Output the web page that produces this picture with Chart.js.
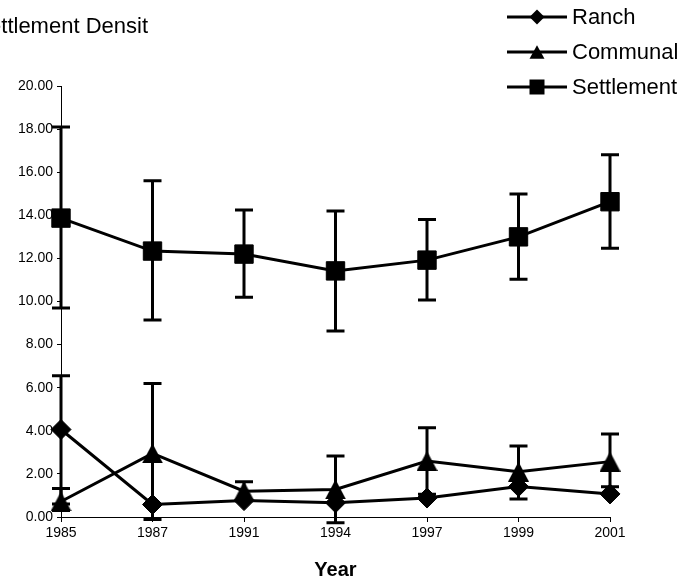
<!DOCTYPE html>
<html>
<head>
<meta charset="UTF-8">
<title>Settlement Density</title>
<script src="https://cdn.jsdelivr.net/npm/chart.js"></script>
<style>
    html, body {
        margin: 0;
        padding: 0;
        background: #fff;
    }
</style>
</head>
<body>
<canvas id="densityChart" width="684" height="584"></canvas>

<script>
    const years = ['1985', '1987', '1991', '1994', '1997', '1999', '2001'];

    const ranch = [4.06, 0.58, 0.76, 0.66, 0.88, 1.41, 1.07];
    const ranchHi = [6.55, null, null, null, null, null, null];
    const ranchLo = [0.6, null, null, null, null, null, null];

    const communal = [0.72, 2.95, 1.2, 1.28, 2.6, 2.1, 2.57];
    const communalHi = [1.32, 6.2, 1.64, 2.83, 4.14, 3.29, 3.85];
    const communalLo = [0.3, -0.12, 0.76, -0.27, 1.06, 0.84, 1.4];

    const settlement = [13.87, 12.34, 12.2, 11.42, 11.92, 13.0, 14.63];
    const settlementHi = [18.1, 15.6, 14.25, 14.2, 13.81, 14.99, 16.81];
    const settlementLo = [9.7, 9.14, 10.2, 8.63, 10.07, 11.03, 12.47];

    const yTicks = [0, 2, 4, 6, 8, 10, 12, 14, 16, 18, 20];

    const FONT = "'Liberation Sans', Arial, sans-serif";

    // triangle centred on its box (Chart.js' own triangle sits a little high)
    function triangleImage(w, h) {
        const c = document.createElement('canvas');
        c.width = w;
        c.height = h;
        const g = c.getContext('2d');
        g.fillStyle = '#000';
        g.beginPath();
        g.moveTo(w / 2, 0);
        g.lineTo(w, h);
        g.lineTo(0, h);
        g.closePath();
        g.fill();
        return c;
    }

    // error bars: vertical line + cap, drawn under the markers
    const errorBars = {
        id: 'errorBars',
        beforeDatasetsDraw(chart) {
            const ctx = chart.ctx;
            const xs = chart.scales.x, ys = chart.scales.y;
            const sets = [
                [ranch, ranchLo, ranchHi],
                [communal, communalLo, communalHi],
                [settlement, settlementLo, settlementHi]
            ];
            ctx.save();
            ctx.strokeStyle = '#000';
            ctx.lineWidth = 3;
            sets.forEach(([vals, lo, hi]) => {
                vals.forEach((v, i) => {
                    const px = xs.getPixelForValue(i);
                    const pv = ys.getPixelForValue(v);
                    [lo[i], hi[i]].forEach(b => {
                        if (b === null) return;
                        const pb = ys.getPixelForValue(b);
                        ctx.beginPath();
                        ctx.moveTo(px, pv);
                        ctx.lineTo(px, pb);
                        ctx.moveTo(px - 9, pb);
                        ctx.lineTo(px + 9, pb);
                        ctx.stroke();
                    });
                });
            });
            ctx.restore();
        }
    };

    function marker(ctx, style, x, y, r) {
        ctx.beginPath();
        if (style === 'rectRot') {
            ctx.moveTo(x, y - r); ctx.lineTo(x + r, y); ctx.lineTo(x, y + r); ctx.lineTo(x - r, y);
        } else if (style === 'rect') {
            ctx.rect(x - r, y - r, 2 * r, 2 * r);
        } else {
            ctx.moveTo(x, y - r * 0.9); ctx.lineTo(x + r, y + r * 0.9); ctx.lineTo(x - r, y + r * 0.9);
        }
        ctx.closePath();
        ctx.fill();
    }

    // legend (line with marker) and clipped title in the top corners
    const decorations = {
        id: 'decorations',
        afterDraw(chart) {
            const ctx = chart.ctx;
            ctx.save();
            ctx.fillStyle = '#000';
            ctx.strokeStyle = '#000';
            ctx.font = '22px ' + FONT;
            ctx.textBaseline = 'middle';
            chart.data.datasets.forEach((ds, i) => {
                const y = 17 + i * 35;
                ctx.lineWidth = 3;
                ctx.beginPath();
                ctx.moveTo(507, y);
                ctx.lineTo(567, y);
                ctx.stroke();
                marker(ctx, ds.legendStyle, 537, y, 7.5);
                ctx.textAlign = 'left';
                ctx.fillText(ds.label, 572, y + 1);
            });

            ctx.beginPath();
            ctx.rect(0, 0, 148, 70);
            ctx.clip();
            ctx.textBaseline = 'alphabetic';
            const start = 148 - ctx.measureText('Settlement Densit').width;
            ctx.fillText('Settlement Density', start, 33);
            ctx.restore();
        }
    };

    const ctx = document.getElementById('densityChart').getContext('2d');
    new Chart(ctx, {
        type: 'line',
        data: {
            labels: years,
            datasets: [
                {
                    label: 'Ranch',
                    data: ranch,
                    borderColor: '#000',
                    backgroundColor: '#000',
                    borderWidth: 3,
                    pointStyle: 'rectRot',
                    legendStyle: 'rectRot',
                    pointRadius: 10,
                    pointBorderWidth: 1,
                    clip: false
                },
                {
                    label: 'Communal',
                    data: communal,
                    borderColor: '#000',
                    backgroundColor: '#000',
                    borderWidth: 3,
                    pointStyle: triangleImage(21, 20),
                    legendStyle: 'triangle',
                    pointRadius: 11,
                    clip: false
                },
                {
                    label: 'Settlement',
                    data: settlement,
                    borderColor: '#000',
                    backgroundColor: '#000',
                    borderWidth: 3,
                    pointStyle: 'rect',
                    legendStyle: 'rect',
                    pointRadius: 13,
                    pointBorderWidth: 1,
                    clip: false
                }
            ]
        },
        options: {
            responsive: false,
            animation: false,
            layout: {
                padding: { top: 86, right: 74, bottom: 0, left: 0 }
            },
            scales: {
                x: {
                    offset: false,
                    grid: {
                        drawOnChartArea: false,
                        drawTicks: true,
                        tickLength: 5,
                        tickColor: '#000',
                        offset: false
                    },
                    border: { display: true, color: '#000', width: 1 },
                    ticks: {
                        color: '#000',
                        padding: 3,
                        maxRotation: 0,
                        autoSkip: false,
                        font: { family: FONT, size: 14 }
                    },
                    title: {
                        display: true,
                        text: 'Year',
                        color: '#000',
                        padding: { top: 0, bottom: 2 },
                        font: { family: FONT, size: 20, weight: 'bold' }
                    },
                    afterFit: s => { s.height = 67; }
                },
                y: {
                    min: 0,
                    max: 20,
                    afterBuildTicks: s => { s.ticks = yTicks.map(v => ({ value: v })); },
                    grid: {
                        drawOnChartArea: false,
                        drawTicks: true,
                        tickLength: 4,
                        tickColor: '#000'
                    },
                    border: { display: true, color: '#000', width: 1 },
                    ticks: {
                        color: '#000',
                        padding: 4,
                        font: { family: FONT, size: 14 },
                        callback: v => v.toFixed(2)
                    },
                    afterFit: s => { s.width = 61; }
                }
            },
            plugins: {
                legend: { display: false },
                title: { display: false },
                tooltip: { enabled: false }
            }
        },
        plugins: [errorBars, decorations]
    });
</script>
</body>
</html>
